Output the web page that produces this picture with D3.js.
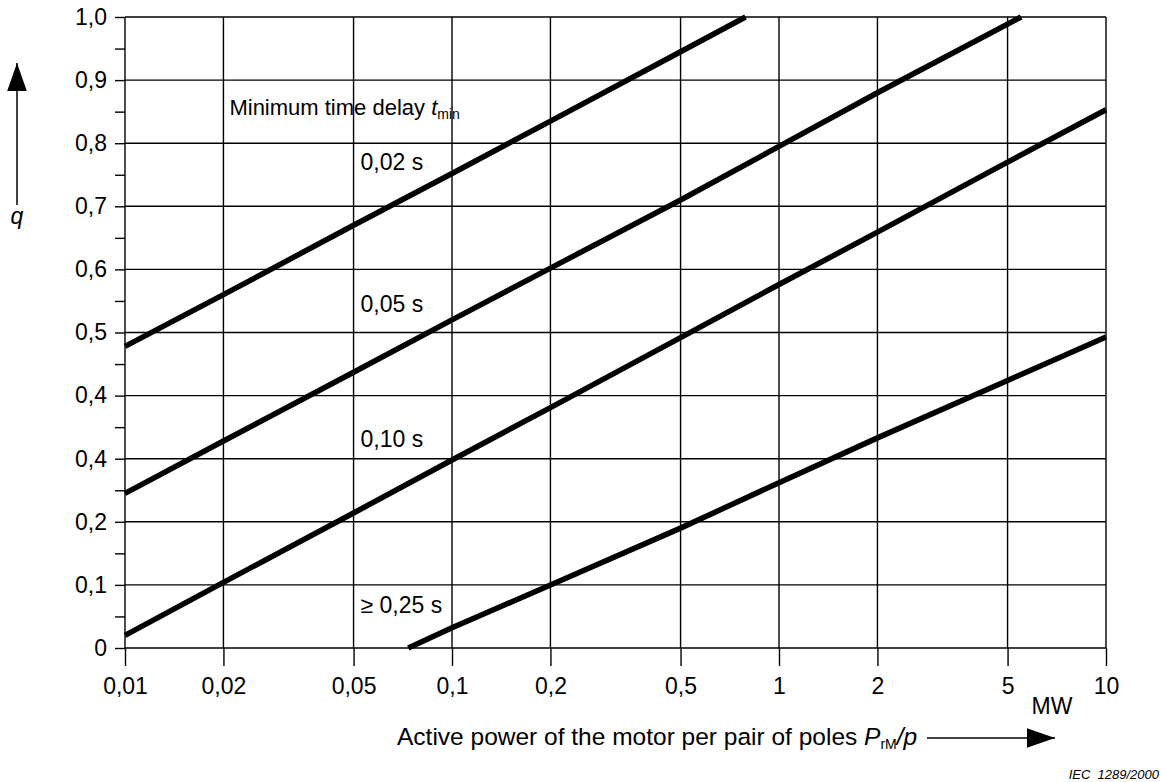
<!DOCTYPE html>
<html>
<head>
<meta charset="utf-8">
<script src="https://cdn.jsdelivr.net/npm/d3@7"></script>
<style>
  body { margin: 0; background: #fff; }
  svg { font-family: "Liberation Sans", Arial, sans-serif; }
  .grid line { stroke: #000; stroke-width: 1.4; }
  .axis path { display: none; }
  .axis line { stroke: #000; stroke-width: 1.4; }
  .axis text { font-size: 23px; fill: #000; }
  .curve { fill: none; stroke: #000; stroke-width: 5.5; }
</style>
</head>
<body>
<svg id="chart" width="1161" height="782"></svg>
<script>
// tick values and labels (labels copied as printed, incl. the repeated "0,4")
var xTicks = [0.01, 0.02, 0.05, 0.1, 0.2, 0.5, 1, 2, 5, 10];
var xTickLabels = ["0,01", "0,02", "0,05", "0,1", "0,2", "0,5", "1", "2", "5", "10"];
var yTicks = [0, 0.1, 0.2, 0.3, 0.4, 0.5, 0.6, 0.7, 0.8, 0.9, 1.0];
var yTickLabels = ["0", "0,1", "0,2", "0,4", "0,4", "0,5", "0,6", "0,7", "0,8", "0,9", "1,0"];
var yMinorTicks = [0.05, 0.15, 0.25, 0.35, 0.45, 0.55, 0.65, 0.75, 0.85, 0.95];

// curves: [P/p in MW, q]
var delay002 = [[0.01, 0.478], [0.02, 0.56], [0.05, 0.67], [0.1, 0.752], [0.2, 0.835], [0.5, 0.945], [0.79, 1.0]];
var delay005 = [[0.01, 0.245], [0.02, 0.328], [0.05, 0.437], [0.1, 0.52], [0.2, 0.602], [0.5, 0.71], [1, 0.795], [2, 0.88], [5.5, 1.0]];
var delay010 = [[0.01, 0.02], [0.02, 0.104], [0.05, 0.214], [0.1, 0.298], [0.2, 0.381], [0.5, 0.492], [1, 0.576], [2, 0.659], [5, 0.77], [10, 0.853]];
var delay025 = [[0.0735, 0], [0.1, 0.032], [0.2, 0.1], [0.5, 0.19], [1, 0.262], [2, 0.333], [5, 0.424], [10, 0.493]];

var curveLabels = ["0,02 s", "0,05 s", "0,10 s", "\u2265 0,25 s"];
var curveLabelQ = [0.757, 0.532, 0.318, 0.055];

var svg = d3.select("#chart");
var mLeft = 125, mRight = 1106, mTop = 17, mBottom = 648;

var x = d3.scaleLog().domain([0.01, 10]).range([mLeft, mRight]);
var y = d3.scaleLinear().domain([0, 1]).range([mBottom, mTop]);

// grid
var grid = svg.append("g").attr("class", "grid");
grid.selectAll(".vg").data(xTicks).enter().append("line")
  .attr("x1", d => x(d)).attr("x2", d => x(d))
  .attr("y1", mTop).attr("y2", mBottom);
grid.selectAll(".hg").data(yTicks).enter().append("line")
  .attr("x1", mLeft).attr("x2", mRight)
  .attr("y1", d => y(d)).attr("y2", d => y(d));

// axes
svg.append("g").attr("class", "axis")
  .attr("transform", "translate(0," + mBottom + ")")
  .call(d3.axisBottom(x).tickValues(xTicks).tickSize(18).tickPadding(12)
    .tickFormat((d, i) => xTickLabels[i]));

svg.append("g").attr("class", "axis")
  .attr("transform", "translate(" + mLeft + ",0)")
  .call(d3.axisLeft(y).tickValues(yTicks).tickSize(10).tickPadding(8)
    .tickFormat((d, i) => yTickLabels[i]));

svg.append("g").attr("class", "axis")
  .attr("transform", "translate(" + mLeft + ",0)")
  .call(d3.axisLeft(y).tickValues(yMinorTicks).tickSize(10).tickFormat(""));

// curves
var line = d3.line().x(d => x(d[0])).y(d => y(d[1]));
[delay002, delay005, delay010, delay025].forEach(function (s) {
  svg.append("path").attr("class", "curve").attr("d", line(s));
});

// curve labels
svg.selectAll(".clab").data(curveLabels).enter().append("text")
  .attr("x", x(0.05) + 7)
  .attr("y", (d, i) => y(curveLabelQ[i]))
  .attr("font-size", 23)
  .text(d => d);

var title = svg.append("text").attr("x", x(0.02) + 6).attr("y", y(0.845)).attr("font-size", 22);
title.append("tspan").text("Minimum time delay ");
title.append("tspan").attr("font-style", "italic").text("t");
title.append("tspan").attr("font-size", 14).attr("dy", 4).text("min");

// x axis title
var xt = svg.append("text").attr("x", 397).attr("y", 745).attr("font-size", 24.5);
xt.append("tspan").text("Active power of the motor per pair of poles ");
xt.append("tspan").attr("font-style", "italic").text("P");
xt.append("tspan").attr("font-size", 14).attr("dy", 4).text("rM");
xt.append("tspan").attr("font-style", "italic").attr("dy", -4).text("/p");

svg.append("defs").append("marker")
  .attr("id", "arr").attr("viewBox", "0 0 10 10").attr("refX", 10).attr("refY", 5)
  .attr("markerWidth", 28).attr("markerHeight", 28).attr("markerUnits", "userSpaceOnUse")
  .attr("orient", "auto")
  .append("path").attr("d", "M0,1.5L10,5L0,8.5Z").attr("fill", "#000");

svg.append("line").attr("x1", 927).attr("x2", 1055).attr("y1", 738).attr("y2", 738)
  .attr("stroke", "#000").attr("stroke-width", 1.5).attr("marker-end", "url(#arr)");

svg.append("text").attr("x", 1052).attr("y", 714).attr("text-anchor", "middle")
  .attr("font-size", 23).text("MW");

// y axis title
svg.append("line").attr("x1", 17).attr("x2", 17).attr("y1", 205).attr("y2", 63)
  .attr("stroke", "#000").attr("stroke-width", 1.5).attr("marker-end", "url(#arr)");
svg.append("text").attr("x", 17).attr("y", 224).attr("text-anchor", "middle")
  .attr("font-size", 23).attr("font-style", "italic").text("q");

svg.append("text").attr("x", 1159).attr("y", 779).attr("text-anchor", "end")
  .attr("font-size", 13).attr("font-style", "italic").attr("xml:space", "preserve")
  .text("IEC  1289/2000");
</script>
</body>
</html>
